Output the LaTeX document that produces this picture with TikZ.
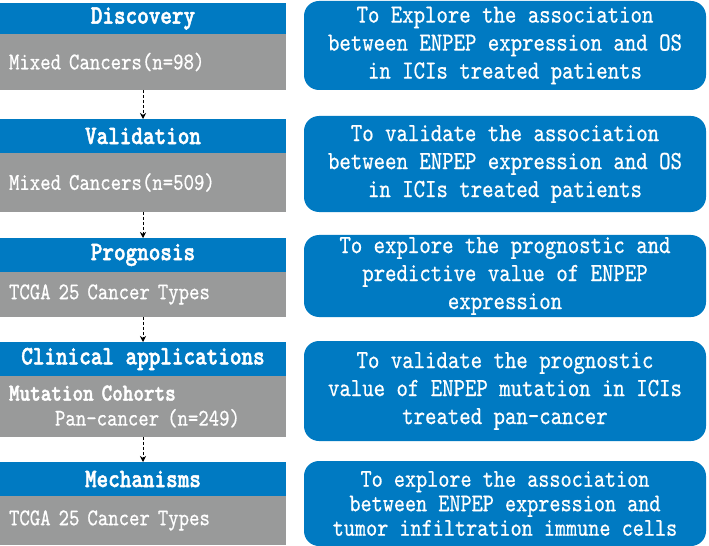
\documentclass[tikz,border=0pt]{standalone}
\usepackage{fontspec}
\newfontfamily\rfont{lmmono10-regular.otf}[FakeStretch=0.83, FakeBold=0.6]
\newfontfamily\hfont{lmmonolt10-bold.otf}[FakeStretch=0.83, FakeBold=1.8]
\usetikzlibrary{arrows.meta, positioning}
\definecolor{stepblue}{RGB}{0,122,194}
\definecolor{cohortgrey}{RGB}{153,154,154}
\newcommand{\fsz}[2]{\fontsize{#1}{#2}\selectfont}

\begin{document}
\begin{tikzpicture}[
  x=1bp, y=-1bp, >={Stealth[length=6bp, width=6bp]},
  head/.style={fill=stepblue, text=white, inner sep=0pt, outer sep=0pt,
               minimum width=286bp, anchor=north west,
               font=\hfont\fsz{26.6bp}{28bp}},
  cohort/.style={fill=cohortgrey, text=white, inner xsep=9bp, inner ysep=0pt,
                 outer sep=0pt, text width=268bp, align=left,
                 font=\rfont\fsz{23.9bp}{25bp}},
  aim/.style={fill=stepblue, text=white, rounded corners=15bp, inner sep=0pt,
              outer sep=0pt, minimum width=402bp, anchor=north west, align=center,
              font=\rfont\fsz{26.2bp}{28bp}},
  flow/.style={->, densely dashed, line width=0.6bp}
]
\useasboundingbox (0,0) rectangle (709,546);

% left column: stages and cohorts
\node[head, minimum height=31bp] (discH) at (0,3) {Discovery};
\node[cohort, minimum height=56bp, below=0pt of discH] (discC) {Mixed Cancers(n=98)};
\node[head, minimum height=34bp] (valH) at (0,119) {Validation};
\node[cohort, minimum height=59bp, below=0pt of valH] (valC) {Mixed Cancers(n=509)};
\node[head, minimum height=34bp] (progH) at (0,238) {Prognosis};
\node[cohort, minimum height=45bp, below=0pt of progH] (progC) {TCGA 25 Cancer Types};
\node[head, minimum height=34bp] (clinH) at (0,342) {Clinical applications};
\node[cohort, minimum height=61bp, below=0pt of clinH] (clinC)
  {{\hfont\fsz{24.3bp}{25bp}Mutation Cohorts}\\\hspace*{46bp}Pan-cancer (n=249)};
\node[head, minimum height=34bp] (mechH) at (0,462) {Mechanisms};
\node[cohort, minimum height=49bp, below=0pt of mechH] (mechC) {TCGA 25 Cancer Types};

% right column: aims
\node[aim, minimum height=89bp] (discA) at (304,1)
  {To Explore the association\\between ENPEP expression and OS\\in ICIs treated patients};
\node[aim, minimum height=96bp] (valA) at (304,116)
  {To validate the association\\between ENPEP expression and OS\\in ICIs treated patients};
\node[aim, minimum height=82bp] (progA) at (304,235)
  {To explore the prognostic and\\predictive value of ENPEP\\expression};
\node[aim, minimum height=100bp] (clinA) at (304,341)
  {To validate the prognostic\\value of ENPEP mutation in ICIs\\treated pan-cancer};
\node[aim, minimum height=85bp, font=\rfont\fsz{25.5bp}{24.5bp}] (mechA) at (304,461)
  {To explore the association\\between ENPEP expression and\\tumor infiltration immune cells};

\draw[flow] (discC.south) -- (valH.north);
\draw[flow] (valC.south) -- (progH.north);
\draw[flow] (progC.south) -- (clinH.north);
\draw[flow] (clinC.south) -- (mechH.north);
\end{tikzpicture}
\end{document}
